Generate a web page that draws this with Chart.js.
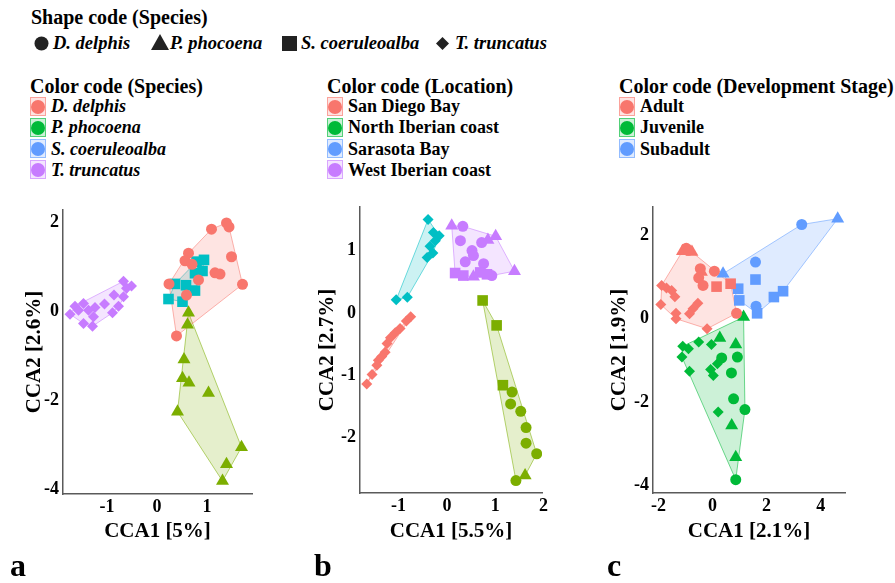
<!DOCTYPE html>
<html>
<head>
<meta charset="utf-8">
<script src="https://cdn.jsdelivr.net/npm/chart.js@4.4.1/dist/chart.umd.min.js"></script>
<style>
body{margin:0;background:#fff;font-family:"Liberation Serif","Times New Roman",serif;color:#000;}
#page{position:relative;width:895px;height:583px;overflow:hidden;}
.h{position:absolute;font-family:"Liberation Serif",serif;font-weight:bold;font-size:20px;line-height:22px;white-space:nowrap;}
.it{position:absolute;font-family:"Liberation Serif",serif;font-weight:bold;font-size:18px;line-height:20px;white-space:nowrap;display:flex;align-items:center;}
.it.i{font-style:italic;}
.key{display:inline-block;width:16px;height:19px;border:1px solid;box-sizing:border-box;position:relative;margin-right:5px;}
.key b{position:absolute;left:0;top:2px;width:14px;height:14px;border-radius:50%;}
.sh{position:absolute;font-family:"Liberation Serif",serif;font-weight:bold;font-style:italic;font-size:18.5px;line-height:20px;white-space:nowrap;}
.sh svg{position:absolute;left:-19px;}
canvas{position:absolute;}
.tag{position:absolute;font-family:"Liberation Serif",serif;font-weight:bold;font-size:32px;line-height:32px;}
</style>
</head>
<body>
<div id="page">
  <div class="h" style="left:31px;top:6px">Shape code (Species)</div>
  <div id="shapes"></div>
  <div id="legends"></div>
  <canvas id="ca" width="270" height="370"></canvas>
  <canvas id="cb" width="270" height="370"></canvas>
  <canvas id="cc" width="270" height="370"></canvas>
  <div class="tag" style="left:10px;top:549px">a</div>
  <div class="tag" style="left:314px;top:549px">b</div>
  <div class="tag" style="left:607px;top:549px">c</div>
</div>
<script>
// values: [CCA1, CCA2, shape]  c=circle t=triangle s=square d=diamond

// panel a, colour = species
const aDelphis = [[1.09,1.84,'c'],[1.39,1.98,'c'],[1.44,1.89,'c'],[1.49,1.22,'c'],[1.71,0.60,'c'],[0.63,1.30,'c'],[0.56,1.13,'c'],[1.16,0.86,'c'],[1.26,0.83,'c'],[0.83,0.70,'c'],[0.24,0.61,'c'],[0.59,0.36,'c'],[0.39,-0.56,'c'],[0.70,1.05,'c']];
const aPhocoena = [[0.63,-0.04,'t'],[0.61,-0.31,'t'],[0.54,-1.09,'t'],[0.51,-1.51,'t'],[0.64,-1.61,'t'],[1.03,-1.84,'t'],[0.41,-2.26,'t'],[1.69,-3.06,'t'],[1.39,-3.44,'t'],[1.31,-3.82,'t']];
const aCoeruleoalba = [[0.79,1.11,'s'],[0.94,1.15,'s'],[0.91,0.90,'s'],[0.76,0.85,'s'],[0.36,0.61,'s'],[0.58,0.58,'s'],[0.76,0.46,'s'],[0.23,0.27,'s'],[0.51,0.21,'s']];
const aTruncatus = [[-0.67,0.67,'d'],[-0.51,0.56,'d'],[-0.61,0.51,'d'],[-0.86,0.36,'d'],[-0.67,0.32,'d'],[-1.05,0.16,'d'],[-0.77,0.11,'d'],[-0.89,-0.04,'d'],[-1.24,0.08,'d'],[-1.47,0.17,'d'],[-1.64,0.11,'d'],[-1.37,0.02,'d'],[-1.74,-0.07,'d'],[-1.47,-0.28,'d'],[-1.29,-0.34,'d'],[-1.27,-0.13,'d'],[-1.57,0.02,'d']];

// panel b, colour = location
const bSanDiego = [[-0.75,-0.06,'d'],[-0.84,-0.13,'d'],[-0.97,-0.25,'d'],[-1.07,-0.32,'d'],[-1.17,-0.40,'d'],[-1.24,-0.49,'d'],[-1.28,-0.63,'d'],[-1.35,-0.70,'d'],[-1.42,-0.76,'d'],[-1.45,-0.84,'d'],[-1.55,-0.99,'d'],[-1.66,-1.14,'d']];
const bNorthIberian = [[0.74,0.20,'s'],[1.03,-0.20,'s'],[1.16,-1.16,'s'],[1.35,-1.27,'c'],[1.32,-1.46,'c'],[1.53,-1.58,'c'],[1.64,-1.84,'c'],[1.64,-2.09,'c'],[1.86,-2.26,'c'],[1.43,-2.69,'c'],[1.62,-2.61,'t']];
const bSarasota = [[-0.39,1.50,'d'],[-0.28,1.29,'d'],[-0.16,1.24,'d'],[-0.24,1.16,'d'],[-0.35,1.07,'d'],[-0.29,0.96,'d'],[-0.41,0.89,'d'],[-0.82,0.25,'d'],[-1.05,0.21,'d']];
const bWestIberian = [[0.10,1.40,'t'],[1.01,1.23,'t'],[1.40,0.67,'t'],[0.85,1.17,'t'],[0.55,0.58,'t'],[0.33,1.39,'c'],[0.28,1.16,'c'],[0.72,1.13,'c'],[0.52,1.00,'c'],[0.55,0.92,'c'],[0.38,0.82,'c'],[0.76,0.79,'c'],[0.93,0.60,'c'],[0.17,0.64,'s'],[0.34,0.60,'s'],[0.69,0.65,'s'],[0.83,0.62,'s']];

// panel c, colour = development stage
const cAdult = [[-0.97,1.69,'c'],[-1.11,1.62,'t'],[-0.76,1.60,'t'],[-0.89,1.64,'c'],[-0.45,1.20,'c'],[-0.41,1.12,'t'],[0.07,1.14,'c'],[-0.51,0.98,'c'],[-0.35,0.80,'c'],[0.15,0.77,'s'],[0.67,0.84,'s'],[-1.88,0.80,'d'],[-1.70,0.74,'d'],[-1.51,0.68,'d'],[-1.39,0.53,'d'],[-1.91,0.34,'d'],[-0.54,0.37,'d'],[-0.72,0.24,'d'],[-0.85,0.12,'d'],[-1.35,0.13,'d'],[-1.35,0.00,'d'],[-0.20,-0.24,'d'],[0.89,0.13,'c']];
const cJuvenile = [[1.15,0.04,'t'],[0.27,-0.46,'t'],[0.86,-0.62,'t'],[-1.10,-0.66,'d'],[-0.89,-0.72,'d'],[-0.51,-0.56,'d'],[-0.04,-0.62,'d'],[-1.13,-0.92,'d'],[-0.85,-1.26,'d'],[-0.07,-1.22,'d'],[0.03,-1.36,'d'],[0.18,-1.08,'d'],[0.34,-0.94,'c'],[0.92,-0.92,'c'],[0.70,-1.30,'c'],[0.78,-1.92,'c'],[1.20,-2.18,'c'],[0.21,-2.24,'d'],[0.71,-2.56,'t'],[0.86,-3.32,'t'],[0.86,-3.86,'c']];
const cSubadult = [[4.63,2.40,'t'],[3.30,2.26,'c'],[0.39,1.08,'t'],[1.59,1.36,'c'],[1.59,0.94,'s'],[0.95,0.72,'s'],[0.99,0.44,'s'],[1.61,0.30,'c'],[1.65,0.13,'s'],[2.27,0.52,'s'],[2.61,0.66,'s']];

// axis ticks
const aXTicks = [-1, 0, 1];
const aYTicks = [2, 0, -2, -4];
const bXTicks = [-1, 0, 1, 2];
const bYTicks = [1, 0, -1, -2];
const cXTicks = [-2, 0, 2, 4];
const cYTicks = [2, 0, -2, -4];

// legend labels
const shapeLabels = ['D. delphis', 'P. phocoena', 'S. coeruleoalba', 'T. truncatus'];
const speciesLabels = ['D. delphis', 'P. phocoena', 'S. coeruleoalba', 'T. truncatus'];
const locationLabels = ['San Diego Bay', 'North Iberian coast', 'Sarasota Bay', 'West Iberian coast'];
const stageLabels = ['Adult', 'Juvenile', 'Subadult'];

const RED = '#F8766D', OLIVE = '#7CAE00', TEAL = '#00BFC4', PURPLE = '#C77CFF', GREEN = '#00BA38', BLUE = '#619CFF';
const legendColors = [RED, GREEN, BLUE, PURPLE];

function rgba(hex, a){
  const n = parseInt(hex.slice(1), 16);
  return 'rgba(' + (n >> 16) + ',' + ((n >> 8) & 255) + ',' + (n & 255) + ',' + a + ')';
}

// legends
const shapeSvg = {
  c: '<svg width="15" height="15" style="top:3px"><circle cx="7.5" cy="7.5" r="7" fill="#222"/></svg>',
  t: '<svg width="18" height="16" style="top:1px"><polygon points="9,0 18,16 0,16" fill="#222"/></svg>',
  s: '<svg width="15" height="15" style="top:3px"><rect width="15" height="15" fill="#222"/></svg>',
  d: '<svg width="13" height="13" style="top:4px"><polygon points="6.5,0 13,6.5 6.5,13 0,6.5" fill="#222"/></svg>'
};
const shapeX = [53, 170, 301, 455];
let html = '';
['c','t','s','d'].forEach((k, i) => {
  html += '<div class="sh" style="left:' + shapeX[i] + 'px;top:33px">' + shapeSvg[k] + shapeLabels[i] + '</div>';
});
document.getElementById('shapes').innerHTML = html;

function legendBlock(x, title, labels, italic){
  let s = '<div class="h" style="left:' + x + 'px;top:75px">' + title + '</div>';
  labels.forEach((l, i) => {
    const c = legendColors[i];
    s += '<div class="it' + (italic ? ' i' : '') + '" style="left:' + x + 'px;top:' + (96 + i * 21.3) + 'px">' +
      '<span class="key" style="border-color:' + rgba(c, 0.6) + ';background:' + rgba(c, 0.2) + '"><b style="background:' + c + '"></b></span>' + l + '</div>';
  });
  return s;
}
document.getElementById('legends').innerHTML =
  legendBlock(30, 'Color code (Species)', speciesLabels, true) +
  legendBlock(327, 'Color code (Location)', locationLabels, false) +
  legendBlock(619, 'Color code (Development Stage)', stageLabels, false);

// charts
const STYLE = {c: 'circle', t: 'triangle', s: 'rect', d: 'rectRot'};
const SIZE = {c: 5.5, t: 7.5, s: 7.5, d: 5.5};
const TICK_FONT = {family: 'Liberation Serif', weight: 'bold', size: 18};
const TITLE_FONT = {family: 'Liberation Serif', weight: 'bold', size: 21};

function hull(pts){
  const p = pts.map(d => ({x: d[0], y: d[1]})).sort((a, b) => a.x - b.x || a.y - b.y);
  const cross = (o, a, b) => (a.x - o.x) * (b.y - o.y) - (a.y - o.y) * (b.x - o.x);
  const lo = [], up = [];
  for (const q of p){ while (lo.length >= 2 && cross(lo[lo.length - 2], lo[lo.length - 1], q) <= 0) lo.pop(); lo.push(q); }
  for (let i = p.length - 1; i >= 0; i--){ const q = p[i]; while (up.length >= 2 && cross(up[up.length - 2], up[up.length - 1], q) <= 0) up.pop(); up.push(q); }
  lo.pop(); up.pop();
  const h = lo.concat(up);
  h.push(h[0]);
  return h;
}

function panel(id, box, groups, xr, yr, xTicks, yTicks, xTitle, yTitle){
  const cv = document.getElementById(id);
  const cx = box.yTitleX - 22, cy = 190, cw = box.r - cx + 20, ch = 370;
  cv.width = cw; cv.height = ch;
  cv.style.left = cx + 'px'; cv.style.top = cy + 'px';
  const lh = TITLE_FONT.size * 1.2;
  const Lp = box.yTitleX - lh / 2 - cx;
  const Wy = box.l - cx - Lp;
  const xb = box.xTitleY + lh / 2;
  const Hx = xb - box.b;

  const datasets = [];
  groups.forEach(g => {
    datasets.push({
      type: 'line', data: hull(g.pts), fill: 'shape', tension: 0,
      backgroundColor: rgba(g.color, 0.2), borderColor: rgba(g.color, 0.55), borderWidth: 1,
      pointRadius: 0, order: 2
    });
    datasets.push({
      type: 'scatter', data: g.pts.map(d => ({x: d[0], y: d[1], s: d[2]})),
      pointStyle: ctx => ctx.raw ? STYLE[ctx.raw.s] : 'circle',
      pointRadius: ctx => ctx.raw ? SIZE[ctx.raw.s] : 5,
      backgroundColor: g.color, borderWidth: 0, order: 1
    });
  });

  new Chart(cv, {
    type: 'scatter',
    data: {datasets},
    options: {
      responsive: false, animation: false, devicePixelRatio: 1,
      layout: {padding: {left: Lp, top: box.t - cy, right: cx + cw - box.r, bottom: cy + ch - xb}},
      plugins: {legend: {display: false}, tooltip: {enabled: false}},
      scales: {
        x: {
          type: 'linear', min: xr[0], max: xr[1],
          grid: {display: false, drawTicks: false},
          border: {display: true, color: '#5a5a5a', width: 1.5},
          ticks: {font: TICK_FONT, color: '#000', padding: 3},
          title: {display: true, text: xTitle, font: TITLE_FONT, color: '#000', padding: 0},
          afterBuildTicks: s => { s.ticks = xTicks.map(v => ({value: v})); },
          afterFit: s => { s.height = Hx; }
        },
        y: {
          type: 'linear', min: yr[0], max: yr[1],
          grid: {display: false, drawTicks: false},
          border: {display: true, color: '#5a5a5a', width: 1.5},
          ticks: {font: TICK_FONT, color: '#000', padding: 4},
          title: {display: true, text: yTitle, font: TITLE_FONT, color: '#000', padding: 0},
          afterBuildTicks: s => { s.ticks = yTicks.map(v => ({value: v})); },
          afterFit: s => { s.width = Wy; }
        }
      }
    }
  });
}

panel('ca', {l: 63, t: 210, r: 252, b: 494, yTitleX: 35, xTitleY: 532},
  [{pts: aDelphis, color: RED}, {pts: aPhocoena, color: OLIVE}, {pts: aCoeruleoalba, color: TEAL}, {pts: aTruncatus, color: PURPLE}],
  [-1.88, 1.9], [-4.11, 2.27], aXTicks, aYTicks, 'CCA1 [5%]', 'CCA2 [2.6%]');

panel('cb', {l: 360, t: 207, r: 542, b: 493, yTitleX: 328, xTitleY: 532},
  [{pts: bSanDiego, color: RED}, {pts: bNorthIberian, color: OLIVE}, {pts: bSarasota, color: TEAL}, {pts: bWestIberian, color: PURPLE}],
  [-1.80, 1.97], [-2.89, 1.70], bXTicks, bYTicks, 'CCA1 [5.5%]', 'CCA2 [2.7%]');

panel('cc', {l: 653, t: 207, r: 845, b: 493, yTitleX: 620, xTitleY: 532},
  [{pts: cAdult, color: RED}, {pts: cJuvenile, color: GREEN}, {pts: cSubadult, color: BLUE}],
  [-2.2, 4.9], [-4.18, 2.68], cXTicks, cYTicks, 'CCA1 [2.1%]', 'CCA2 [1.9%]');
</script>
</body>
</html>
